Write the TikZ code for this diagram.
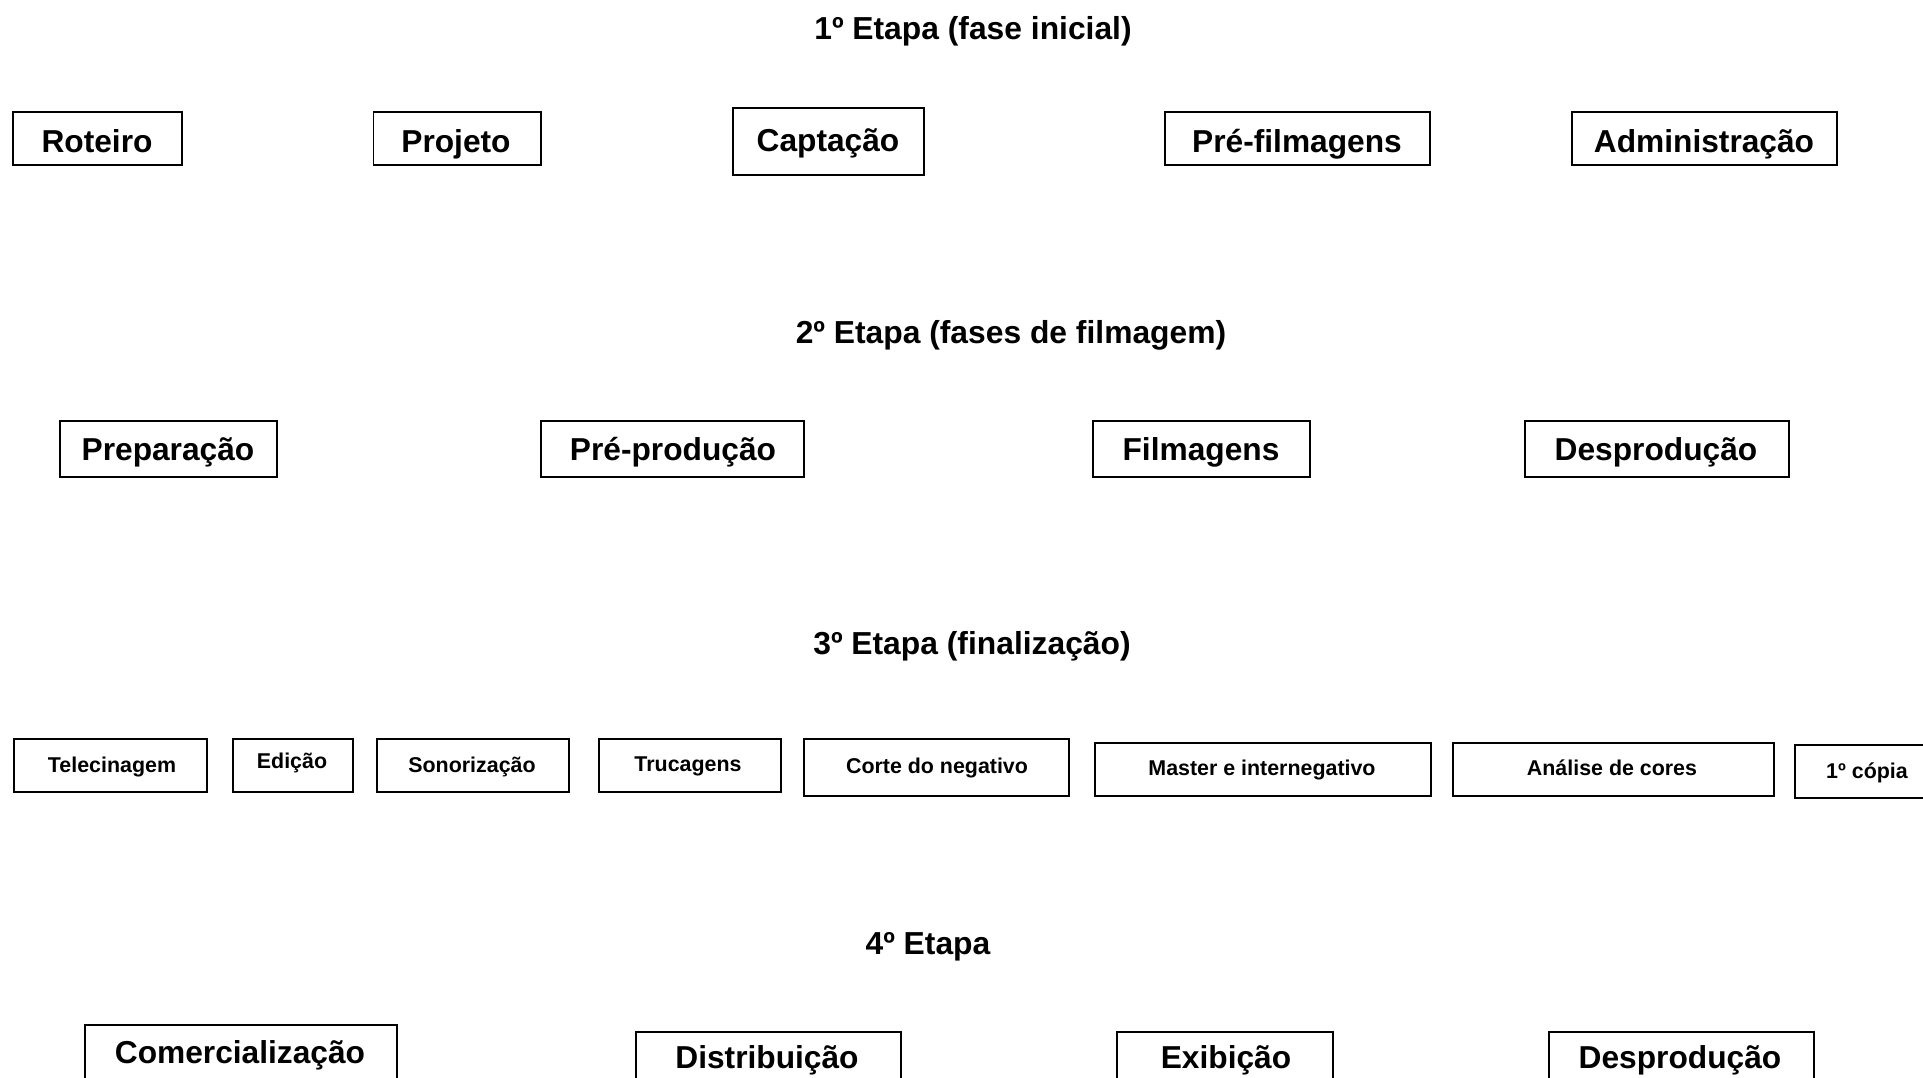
\documentclass[tikz,border=0pt]{standalone}
\usepackage{fontspec}
\setmainfont{Liberation Sans}
\usetikzlibrary{fit}
\begin{document}
\begin{tikzpicture}[x=1pt,y=-1pt,
  box/.style={draw=black, line width=1.3pt, inner sep=0pt, fill=white},
  bigtxt/.style={anchor=base, inner sep=0pt, font=\fontsize{31.7}{38}\selectfont\bfseries},
  smalltxt/.style={anchor=base, inner sep=0pt, font=\fontsize{21.4}{26}\selectfont\bfseries},
  heading/.style={anchor=base, inner sep=0pt, font=\fontsize{31.8}{38}\selectfont\bfseries}]
\useasboundingbox[fill=white] (0,0) rectangle (1923,1077);

% ---- stage 1 ----
\node[heading] (h1) at (973,39) {1º Etapa (fase inicial)};
\node[box, fit={(13,112) (182,165)}] (roteiro) {};
\node[bigtxt] (troteiro) at (97,152) {Roteiro};
\node[box, fit={(373.5,112) (541,165)}] (projeto) {};
\node[bigtxt] (tprojeto) at (456,152) {Projeto};
\node[box, fit={(733,108) (924,175)}] (captacao) {};
\node[bigtxt] (tcaptacao) at (828,151.5) {Captação};
\node[box, fit={(1165,112) (1430,165)}] (prefilm) {};
\node[bigtxt] (tprefilm) at (1297,152) {Pré-filmagens};
\node[box, fit={(1572,112) (1837,165)}] (admin) {};
\node[bigtxt] (tadmin) at (1704,152) {Administração};

% ---- stage 2 ----
\node[heading] (h2) at (1011,343) {2º Etapa (fases de filmagem)};
\node[box, fit={(60,421) (277,477)}] (prep) {};
\node[bigtxt] (tprep) at (168,460) {Preparação};
\node[box, fit={(541,421) (804,477)}] (preprod) {};
\node[bigtxt] (tpreprod) at (673,460) {Pré-produção};
\node[box, fit={(1093,421) (1310,477)}] (filmagens) {};
\node[bigtxt] (tfilmagens) at (1201,460) {Filmagens};
\node[box, fit={(1525,421) (1789,477)}] (desprodA) {};
\node[bigtxt] (tdesprodA) at (1656,460) {Desprodução};

% ---- stage 3 ----
\node[heading] (h3) at (972,654) {3º Etapa (finalização)};
\node[box, fit={(14,739) (207,792)}] (telecin) {};
\node[smalltxt] (ttelecin) at (112,772) {Telecinagem};
\node[box, fit={(233,739) (353,792)}] (edicao) {};
\node[smalltxt] (tedicao) at (292,768) {Edição};
\node[box, fit={(377,739) (569,792)}] (sonor) {};
\node[smalltxt] (tsonor) at (472,772) {Sonorização};
\node[box, fit={(599,739) (781,792)}] (trucag) {};
\node[smalltxt] (ttrucag) at (688,771.5) {Trucagens};
\node[box, fit={(804,739) (1069,796)}] (corte) {};
\node[smalltxt] (tcorte) at (937,773) {Corte do negativo};
\node[box, fit={(1095,743) (1431,796)}] (master) {};
\node[smalltxt] (tmaster) at (1262,775) {Master e internegativo};
\node[box, fit={(1453,743) (1774,796)}] (analise) {};
\node[smalltxt] (tanalise) at (1612,775) {Análise de cores};
\node[box, fit={(1795,745) (1940,798)}] (copia) {};
\node[smalltxt] (tcopia) at (1867,778) {1º cópia};

% ---- stage 4 ----
\node[heading] (h4) at (928,954) {4º Etapa};
\node[box, fit={(85,1025) (397,1090)}] (comerc) {};
\node[bigtxt] (tcomerc) at (240,1063) {Comercialização};
\node[box, fit={(636,1032) (901,1095)}] (distrib) {};
\node[bigtxt] (tdistrib) at (767,1068) {Distribuição};
\node[box, fit={(1117,1032) (1333,1095)}] (exib) {};
\node[bigtxt] (texib) at (1226,1068) {Exibição};
\node[box, fit={(1549,1032) (1814,1095)}] (desprodB) {};
\node[bigtxt] (tdesprodB) at (1680,1068) {Desprodução};
\end{tikzpicture}
\end{document}
